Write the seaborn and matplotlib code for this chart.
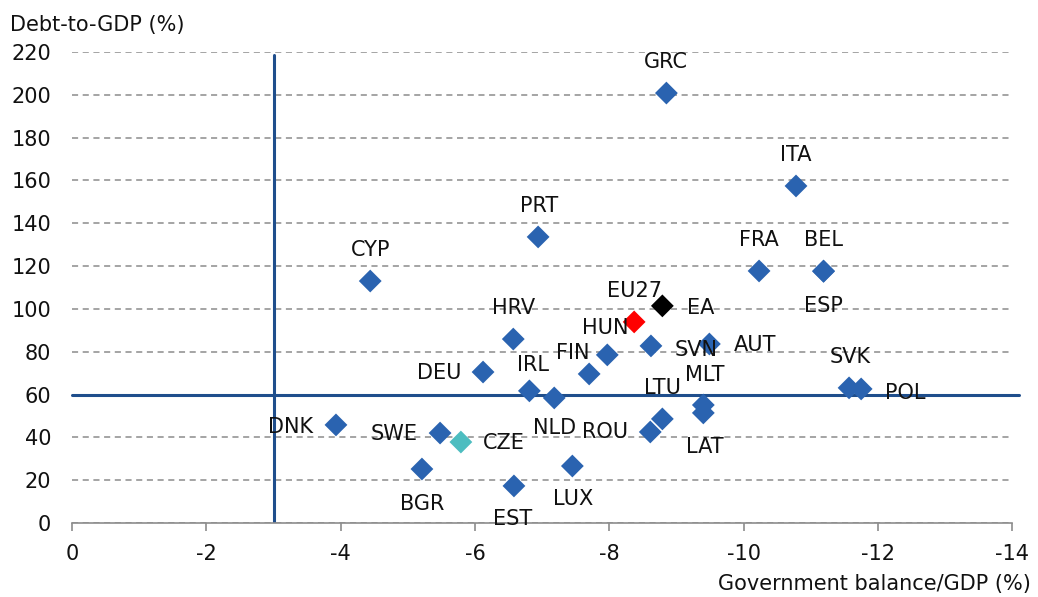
import pandas as pd
import matplotlib.pyplot as plt
import seaborn as sns

# --- data ---
countries = ['GRC', 'ITA', 'PRT', 'CYP', 'FRA', 'BEL', 'ESP', 'EU27', 'EA', 'HRV',
             'HUN', 'SVN', 'AUT', 'FIN', 'IRL', 'DEU', 'NLD', 'LTU', 'MLT', 'LAT',
             'ROU', 'SVK', 'POL', 'DNK', 'SWE', 'CZE', 'BGR', 'EST', 'LUX']
balance = [-8.85, -10.78, -6.94, -4.44, -10.23, -11.19, -11.19, -8.37, -8.79, -6.57,
           -7.97, -8.62, -9.49, -7.70, -6.81, -6.12, -7.18, -8.79, -9.40, -9.40,
           -8.61, -11.57, -11.75, -3.93, -5.48, -5.79, -5.21, -6.58, -7.45]
debt = [200.8, 157.4, 133.6, 113.0, 117.7, 117.7, 117.5, 93.9, 101.4, 85.9,
        78.5, 82.7, 83.6, 69.6, 61.7, 70.5, 58.4, 48.6, 55.1, 51.4,
        42.5, 63.1, 62.6, 45.8, 42.0, 37.8, 25.2, 17.3, 26.6]
groups = ['member'] * len(countries)
groups[countries.index('EU27')] = 'EU27'
groups[countries.index('EA')] = 'EA'
groups[countries.index('CZE')] = 'CZE'

deficit_limit = -3
debt_limit = 60

# label offsets in pixels (dx, dy; dy positive = up)
label_offsets = {
    'GRC': (-1, 31), 'ITA': (0, 31), 'PRT': (1, 31), 'CYP': (0, 31),
    'FRA': (0, 31), 'BEL': (0, 31), 'ESP': (0, -35), 'EU27': (0, 31),
    'EA': (38, -2), 'HRV': (0, 31), 'HUN': (-2, 27), 'SVN': (45, -4),
    'AUT': (46, -1), 'FIN': (-16, 21), 'IRL': (4, 26), 'DEU': (-44, -1),
    'NLD': (0, -30), 'LTU': (0, 31), 'MLT': (1, 30), 'LAT': (1, -34),
    'ROU': (-45, 0), 'SVK': (1, 31), 'POL': (44, -4), 'DNK': (-45, -2),
    'SWE': (-46, -1), 'CZE': (43, -1), 'BGR': (0, -35), 'EST': (-1, -33),
    'LUX': (1, -33),
}

df = pd.DataFrame({'country': countries, 'balance': balance,
                   'debt': debt, 'group': groups})

sns.set_style('white')
plt.rcParams['font.family'] = ['DejaVu Sans']
plt.rcParams['axes.unicode_minus'] = False

fs = 15
fig = plt.figure(figsize=(10.38, 5.97), dpi=100)
ax = fig.add_axes([0.0694, 0.124, 0.9058, 0.789])

line_col = '#1F4E8C'
ax.plot([deficit_limit, deficit_limit], [0, 218.5], color=line_col, lw=2.2, zorder=2)
ax.plot([0, -14.1], [debt_limit, debt_limit], color=line_col, lw=2.2,
        zorder=2, clip_on=False)

palette = {'member': '#2A63B0', 'EU27': '#FF0000', 'EA': '#000000', 'CZE': '#4DBDC0'}
sns.scatterplot(data=df, x='balance', y='debt', hue='group', palette=palette,
                marker='D', s=135, edgecolor='none', legend=False, ax=ax, zorder=3)

for c, x, y in zip(countries, balance, debt):
    dx, dy = label_offsets[c]
    ax.annotate(c, (x, y), xytext=(dx, dy), textcoords='offset pixels',
                ha='center', va='center', fontsize=fs, color='#111111', zorder=4)

ax.set_xlim(0, -14)
ax.set_ylim(0, 220)
ax.set_xticks(range(0, -15, -2))
ax.set_yticks(range(0, 221, 20))
ax.yaxis.grid(True, color='#8C8C8C', linestyle=(0, (4, 3)), lw=1.1)
ax.set_axisbelow(True)
for side in ['left', 'right', 'top']:
    ax.spines[side].set_visible(False)
ax.spines['bottom'].set_color('#8C8C8C')
ax.spines['bottom'].set_linewidth(1.2)
ax.tick_params(axis='x', length=6, width=1.2, color='#8C8C8C', pad=9,
               labelsize=fs, labelcolor='#111111', direction='out', bottom=True)
ax.tick_params(axis='y', length=0, pad=15, labelsize=fs, labelcolor='#111111')
ax.set_xlabel('')
ax.set_ylabel('')

fig.text(0.993, 0.005, 'Government balance/GDP (%)', ha='right', va='bottom',
         fontsize=fs, color='#111111')
fig.text(0.01, 0.958, 'Debt-to-GDP (%)', ha='left', va='center',
         fontsize=fs, color='#111111')

fig.savefig('out.png', dpi=100)
